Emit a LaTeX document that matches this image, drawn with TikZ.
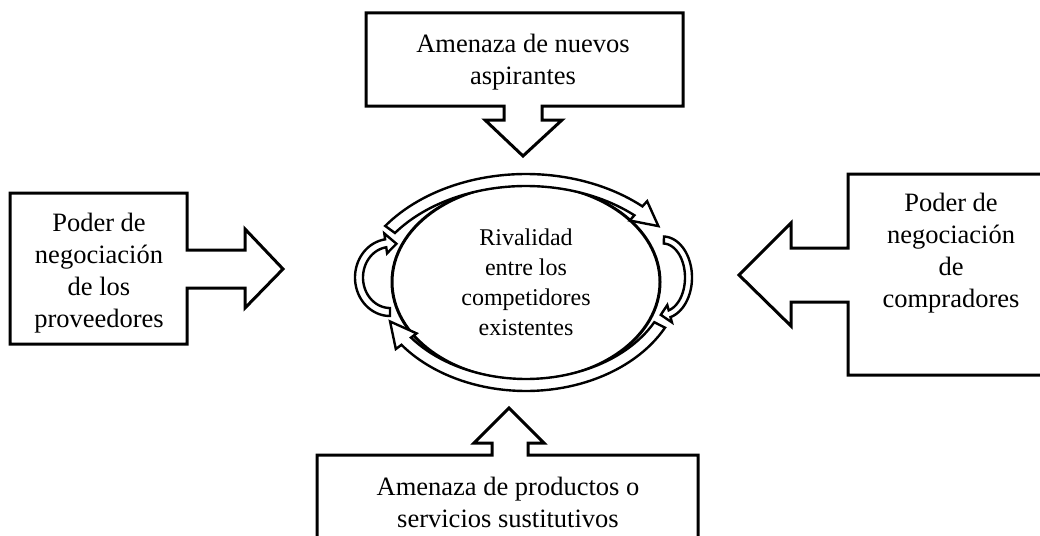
\documentclass[tikz,border=0pt]{standalone}
\usepackage{fontspec}
\setmainfont{Liberation Serif}
\usetikzlibrary{shapes.geometric}
\tikzset{
  boxline/.style={draw=black, line width=3pt, fill=white, line join=miter},
  arcline/.style={draw=black, line width=2.4pt, fill=white, line join=miter},
  bigtxt/.style={align=center, font=\fontsize{26.5}{32}\selectfont, inner sep=0pt},
  midtxt/.style={align=center, font=\fontsize{24}{30}\selectfont, inner sep=0pt},
}
% curved block arrow along an ellipse: cx, cy, rx, ry, tail angle, head base angle, tip angle, half band, half head
\newcommand{\bandarrow}[9]{%
  \draw[arcline] plot[domain=#5:#6,samples=50] ({#1+(#3-#8)*cos(\x)},{#2+(#4-#8)*sin(\x)})
   -- ({#1+(#3-#9)*cos(#6)},{#2+(#4-#9)*sin(#6)})
   -- ({#1+#3*cos(#7)},{#2+#4*sin(#7)})
   -- ({#1+(#3+#9)*cos(#6)},{#2+(#4+#9)*sin(#6)})
   -- plot[domain=#6:#5,samples=50] ({#1+(#3+#8)*cos(\x)},{#2+(#4+#8)*sin(\x)})
   -- cycle;}
\begin{document}
\begin{tikzpicture}[x=1pt,y=-1pt]
\useasboundingbox (0,0) rectangle (1040,535);
\clip (0,0) rectangle (1040,535);
\fill[white] (0,0) rectangle (1040,535);

% top box with down arrow
\draw[boxline] (366,13) -- (683,13) -- (683,106) -- (542,106) -- (542,120) -- (562,120)
  -- (523,156) -- (485,120) -- (504,120) -- (504,106) -- (366,106) -- cycle;
\node[bigtxt] (top) at (523,62) {Amenaza de nuevos\\aspirantes};

% left box with right arrow
\draw[boxline] (10,193) -- (187,193) -- (187,250) -- (245,250) -- (245,229) -- (283,269)
  -- (245,308) -- (245,288) -- (187,288) -- (187,344) -- (10,344) -- cycle;
\node[bigtxt] (left) at (99,273) {Poder de\\negociación\\de los\\proveedores};

% right box with left arrow
\draw[boxline] (1050,174) -- (848,174) -- (848,248) -- (791,248) -- (791,223) -- (739,275)
  -- (791,326) -- (791,302) -- (848,302) -- (848,375) -- (1050,375);
\node[bigtxt] (right) at (951,253) {Poder de\\negociación\\de\\compradores};

% bottom box with up arrow
\draw[boxline] (317,550) -- (317,455) -- (492,455) -- (492,443) -- (474,443) -- (509,408)
  -- (544,443) -- (528,443) -- (528,455) -- (698,455) -- (698,550);
\node[bigtxt] (bottom) at (508,502) {Amenaza de productos o\\servicios sustitutivos};

% central ellipse
\node[draw, ellipse, line width=3pt, inner sep=0pt, minimum width=268pt, minimum height=196pt,
  midtxt] (riv) at (526,282) {Rivalidad\\entre los\\competidores\\existentes};

% curved block arrows around the ellipse
\bandarrow{526}{300}{168}{120}{216}{312}{322}{6}{13}
\bandarrow{526}{275}{150}{110}{27}{143}{155}{6}{13}
\bandarrow{390}{277.5}{31}{34.5}{90}{262}{282}{4}{10}
\bandarrow{663}{277.5}{25.5}{37.5}{272}{435}{455}{3.5}{9}
\end{tikzpicture}
\end{document}
